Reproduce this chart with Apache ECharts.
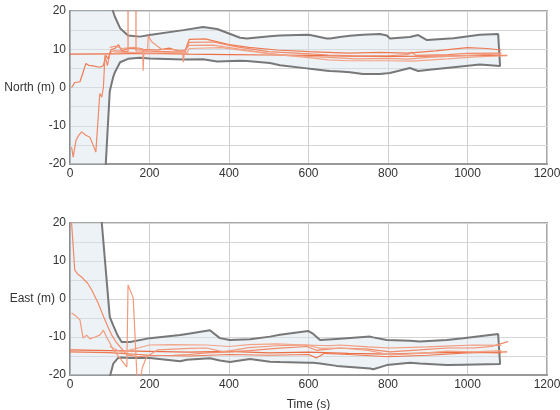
<!DOCTYPE html>
<html lang="en">
<head>
    <meta charset="UTF-8">
    <title>North / East error</title>
    <script src="https://cdn.jsdelivr.net/npm/echarts@6/dist/echarts.min.js"></script>
    <style>
        html, body {
            margin: 0;
            padding: 0;
            background: #fff;
        }

        #main {
            width: 560px;
            height: 410px;
        }
    </style>
</head>
<body>
<div id="main"></div>
<script>
    // axis ticks
    var timeTicks = [0, 200, 400, 600, 800, 1000, 1200];
    var errTicks = [-20, -10, 0, 10, 20];

    // North: uncertainty envelope (grey)
    var northBoundT = [0, 90, 100, 108, 113, 126, 146, 176, 200, 285, 335, 370, 428, 445, 503, 528, 596, 604,
        646, 654, 679, 704, 737, 780, 797, 805, 855, 876, 898, 965, 1031, 1077, 1082];
    var northUpper = [60, 32, 25, 20, 18.5, 15.5, 13.6, 13.3, 13.7, 15.0, 15.8, 15.3, 13.0, 12.8, 13.4, 13.6, 13.8, 13.7,
        12.8, 12.8, 13.2, 13.5, 13.8, 14.0, 13.6, 12.8, 13.2, 13.7, 12.4, 12.9, 13.8, 14.0, 14.0];
    var northLower = [-60, -20, -1, 2.5, 4, 6.6, 7.5, 7.8, 7.6, 7.3, 7.4, 6.8, 7.0, 6.9, 6.4, 5.8, 5.0, 4.9,
        4.4, 4.3, 4.2, 4.0, 3.5, 3.5, 3.7, 3.8, 5.1, 4.3, 4.6, 5.3, 6.0, 6.0, 5.6];

    // North: estimates (orange)
    var north1 = [[0, 8.7], [100, 8.8], [200, 8.9], [300, 8.7], [400, 8.6], [500, 8.5], [600, 8.4], [700, 8.2],
        [800, 8.1], [900, 8.2], [1000, 8.3], [1100, 8.4]];
    var north2 = [[4, 0], [12, 1.3], [25, 1.5], [33, 4], [40, 6.3], [47, 5.8], [54, 5.7], [75, 5.3], [84, 5.7],
        [90, 8.4], [96, 7.5], [103, 9.9], [113, 10.2], [122, 11.2], [130, 9.6], [150, 10.3], [180, 10], [220, 9.8],
        [250, 10.3], [270, 9.6], [290, 9.8], [300, 12.6], [340, 12.7], [400, 11.2], [450, 10.5], [520, 9.8],
        [600, 9.4], [650, 9.2], [700, 9.0], [780, 9.2], [850, 9.0], [920, 9.6], [1000, 10.4], [1050, 10.2], [1085, 9.8]];
    var north3 = [[4, -15.6], [8, -18.2], [15, -13.8], [22, -12.5], [29, -11.6], [40, -12.5], [50, -13], [58, -15],
        [65, -16.9], [70, -16.5], [75, -1.6], [80, -2.5], [84, 0], [88, 8.4], [94, 5.7], [101, 9.2], [110, 9.6],
        [130, 9.5], [146, 9.4], [146, 25], [166, 25], [166, 9.6], [200, 9.5], [260, 9.3], [290, 9.4], [300, 11.8],
        [360, 11.9], [420, 10.6], [500, 9.4], [580, 8.9], [650, 8.5], [720, 8.3], [800, 8.3], [850, 8.6], [860, 9.2],
        [870, 8.4], [950, 8.6], [1000, 8.9], [1085, 9.0]];
    var north4 = [[100, 10.5], [115, 10.8], [130, 10.2], [160, 10.5], [183, 10.1], [184, 4.4], [186, 9.8], [195, 9.6],
        [197, 13.6], [205, 12], [230, 10], [260, 9.9], [283, 9.6], [285, 6.6], [288, 9.5], [300, 11.0], [360, 11.1],
        [430, 10.0], [500, 8.9], [560, 8.3], [650, 7.9], [720, 7.5], [800, 7.6], [850, 7.4], [900, 7.9], [1000, 8.4],
        [1085, 8.8]];
    var north5 = [[110, 9.0], [150, 9.2], [200, 9.0], [295, 9.2], [300, 10.2], [380, 10.4], [450, 9.5], [520, 8.6],
        [600, 7.8], [650, 7.2], [700, 7.0], [800, 7.0], [860, 6.9], [950, 7.5], [1020, 8.0], [1100, 8.3]];

    // East: uncertainty envelope (grey)
    var eastBoundT = [0, 80, 100, 109, 117, 121, 130, 151, 201, 277, 294, 352, 377, 402, 453, 503, 528, 599, 612,
        629, 671, 755, 763, 797, 855, 880, 948, 989, 1077, 1082];
    var eastUpper = [60, 20, -4.7, -7, -8.9, -9.8, -11.3, -11.3, -10.3, -9.5, -9.2, -8.2, -10.3, -10.8, -10.6, -9.9,
        -9.4, -8.4, -9.2, -10.8, -10.5, -9.9, -10.1, -10.8, -11.0, -11.2, -10.8, -10.3, -9.2, -9.2];
    var eastLower = [-60, -30, -20.5, -17, -15.6, -15.5, -15.4, -15.5, -15.5, -16.4, -16.0, -15.6, -16.2, -16.6,
        -15.8, -16.5, -16.6, -16.8, -16.8, -17.0, -17.6, -18.3, -18.5, -17.4, -16.8, -17.0, -17.4, -17.3, -17.1, -17.1];

    // East: estimates (orange)
    var east1 = [[0, -13.4], [100, -13.6], [200, -13.8], [300, -14.0], [400, -13.8], [500, -14.2], [600, -14.0],
        [700, -14.3], [800, -14.5], [900, -14.2], [1000, -14.0], [1085, -14.2]];
    var east2 = [[0, -13.9], [100, -14.1], [200, -14.8], [300, -15.0], [400, -14.6], [500, -14.8], [600, -14.6],
        [620, -15.5], [640, -14.3], [700, -14.6], [800, -15.2], [900, -14.8], [1000, -14.2], [1100, -13.9]];
    var east3 = [[2, 22], [4, 20], [12, 7.6], [20, 6.5], [29, 5.8], [36, 5], [44, 4.2], [54, 2.5], [63, 0.6],
        [71, -1.1], [80, -3.5], [88, -5.5], [96, -7.5], [105, -9.5], [115, -11.2], [126, -12.6], [143, -14.7],
        [170, -15.2], [200, -14.9], [260, -14.8], [300, -14.6], [344, -14.2], [400, -13.9], [450, -13.6],
        [520, -13.0], [596, -12.5], [620, -13.5], [680, -12.9], [750, -13.2], [805, -13.9], [880, -13.4],
        [950, -12.9], [1015, -12.9], [1060, -12.5], [1102, -11.2]];
    var east4 = [[4, -3.7], [15, -4.5], [25, -5.5], [33, -10.3], [42, -9.5], [50, -10.5], [63, -10], [75, -9.5],
        [84, -8.2], [92, -10], [100, -11.5], [109, -13.4], [125, -15.5], [143, -17.9], [146, 3.7], [159, 0.3],
        [168, -19.5], [175, -22], [182, -18], [193, -15.2], [220, -13.4], [260, -13.2], [300, -13.0], [344, -12.9],
        [386, -13.9], [450, -12.8], [520, -12.3], [596, -12.1], [650, -12.3], [679, -12.1], [750, -12.6],
        [805, -12.9], [900, -12.6], [1015, -12.1], [1085, -12.2]];
    var east5 = [[100, -12.5], [130, -14], [200, -12.1], [260, -12.0], [344, -12.1], [400, -12.5], [450, -12.0],
        [520, -11.8], [596, -12.1], [630, -13.0], [680, -12.9], [750, -13.5], [805, -14.7], [880, -14.3],
        [950, -13.7], [1015, -13.9], [1085, -13.6]];

    var orange = ['#f08a68', '#ee7a52', '#f29a7c', '#ec6e44', '#f3a488'];
    var fontFam = 'Liberation Sans, Arial, sans-serif';

    function xAxisOf(gridIndex, name) {
        return {
            type: 'value', gridIndex: gridIndex, min: timeTicks[0], max: timeTicks[timeTicks.length - 1],
            interval: timeTicks[1] - timeTicks[0],
            name: name, nameLocation: 'middle', nameGap: 24, nameMoveOverlap: false,
            nameTextStyle: {fontFamily: fontFam, fontSize: 12, color: '#333'},
            axisLine: {onZero: false, lineStyle: {color: '#999', width: 2}},
            axisTick: {show: false},
            axisLabel: {
                margin: 4, fontFamily: fontFam, fontSize: 12, color: '#333',
                formatter: function (v) { return String(v); }
            },
            splitLine: {lineStyle: {color: '#cfcfcf', width: 1}}
        };
    }

    function yAxisOf(gridIndex, name) {
        return {
            type: 'value', gridIndex: gridIndex, min: errTicks[0], max: errTicks[errTicks.length - 1], interval: 5,
            name: name, nameLocation: 'middle', nameRotate: 0, nameGap: 15, nameMoveOverlap: false,
            nameTextStyle: {fontFamily: fontFam, fontSize: 12, color: '#333', align: 'right', verticalAlign: 'middle'},
            axisLine: {onZero: false, lineStyle: {color: '#8c8c8c', width: 2}},
            axisTick: {show: false},
            axisLabel: {
                margin: 4, fontFamily: fontFam, fontSize: 12, color: '#333',
                formatter: function (v) {
                    return errTicks.indexOf(v) >= 0 ? String(v) : '';
                }
            },
            splitLine: {lineStyle: {color: '#d6d6d6', width: 1}}
        };
    }

    // light band between the grey limits
    function band(idx, T, up, lo) {
        return {
            type: 'custom', xAxisIndex: idx, yAxisIndex: idx, clip: true, silent: true, z: 1,
            data: [[500, 0]],
            renderItem: function (params, api) {
                var pts = [];
                for (var i = 0; i < T.length; i++) pts.push(api.coord([T[i], up[i]]));
                for (var j = T.length - 1; j >= 0; j--) pts.push(api.coord([T[j], lo[j]]));
                return {type: 'polygon', shape: {points: pts}, style: {fill: 'rgba(214,227,234,0.45)'}};
            }
        };
    }

    function envelope(idx, T, up, lo) {
        var pts = T.map(function (t, i) { return [t, up[i]]; });
        var back = T.map(function (t, i) { return [t, lo[i]]; }).reverse();
        return {
            type: 'line', xAxisIndex: idx, yAxisIndex: idx, data: pts.concat(back), symbol: 'none',
            silent: true, z: 3, lineStyle: {color: '#787878', width: 2}
        };
    }

    function est(idx, data, k) {
        return {
            type: 'line', xAxisIndex: idx, yAxisIndex: idx, data: data, symbol: 'none', silent: true, z: 4,
            lineStyle: {color: orange[k], width: 1.2}
        };
    }

    var myChart = echarts.init(document.getElementById('main'), null, {renderer: 'canvas'});
    var option = {
        animation: false,
        backgroundColor: '#fff',
        grid: [
            {left: 70, top: 11, width: 477, height: 153, show: true, borderColor: '#a6a6a6', borderWidth: 2,
                containLabel: false, outerBoundsMode: 'none'},
            {left: 70, top: 223, width: 477, height: 152, show: true, borderColor: '#a6a6a6', borderWidth: 2,
                containLabel: false, outerBoundsMode: 'none'}
        ],
        xAxis: [xAxisOf(0, ''), xAxisOf(1, 'Time (s)')],
        yAxis: [yAxisOf(0, 'North (m)'), yAxisOf(1, 'East (m)')],
        series: [
            band(0, northBoundT, northUpper, northLower),
            envelope(0, northBoundT, northUpper, northLower),
            est(0, north1, 3), est(0, north2, 1), est(0, north3, 0), est(0, north4, 2), est(0, north5, 4),
            band(1, eastBoundT, eastUpper, eastLower),
            envelope(1, eastBoundT, eastUpper, eastLower),
            est(1, east1, 3), est(1, east2, 1), est(1, east3, 0), est(1, east4, 2), est(1, east5, 4)
        ]
    };
    myChart.setOption(option);
</script>
</body>
</html>
